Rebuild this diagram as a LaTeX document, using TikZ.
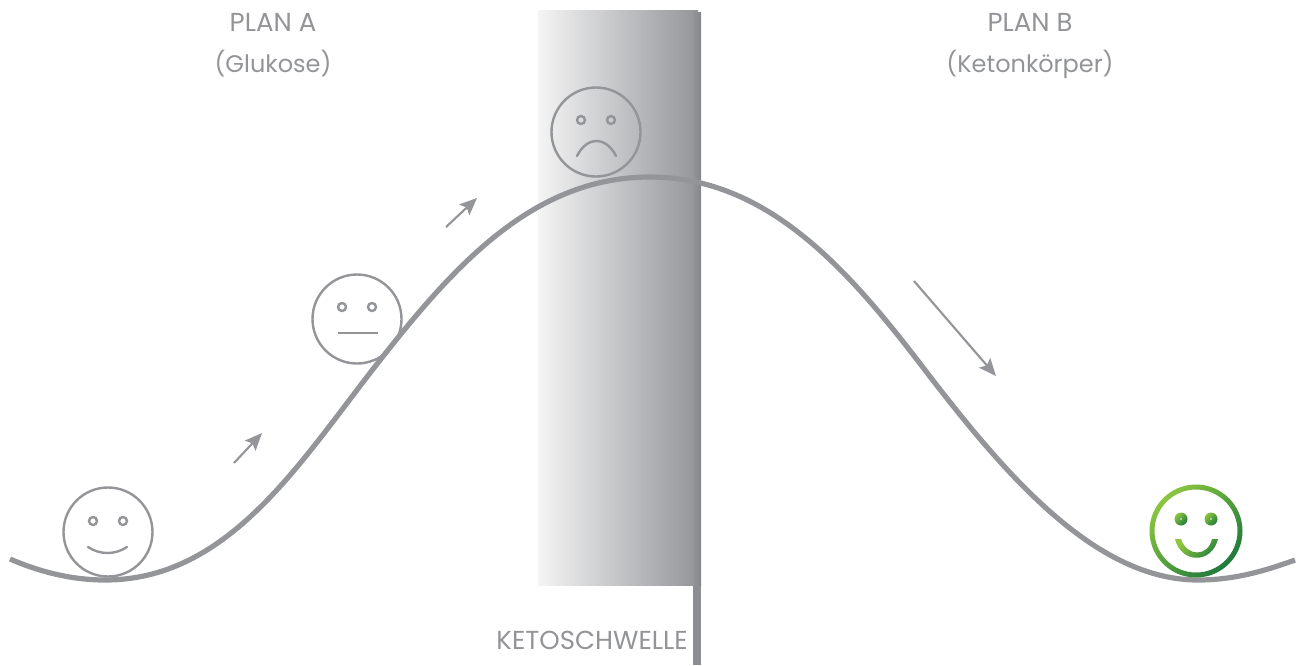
\documentclass[tikz,border=0pt]{standalone}
\usepackage{fontspec}
\setmainfont{Poppins}
\usetikzlibrary{arrows.meta}
\definecolor{gr}{HTML}{949599}
\definecolor{txt}{HTML}{939497}
\definecolor{gl}{HTML}{8CC63F}
\definecolor{gd}{HTML}{1F7A3C}
\tikzset{
  curveline/.style={draw=gr,line width=3.9pt},
  face/.style={draw=gr,line width=1.8pt},
  eye/.style={draw=gr,line width=1.8pt},
  mouth/.style={draw=gr,line width=1.8pt},
  arrowline/.style={draw=gr,line width=1.6pt,-{Stealth[length=13pt,width=11pt,inset=2.5pt]}},
  label/.style={text=txt,font=\fontsize{18}{20}\selectfont,inner sep=0pt},
  caplabel/.style={text=txt,font=\fontsize{19.5}{22}\selectfont,inner sep=0pt},
  greenshade/.style={shading=axis,left color=gl,right color=gd,shading angle=45},
}
\begin{document}
\begin{tikzpicture}[x=0.75pt,y=-0.75pt]
\useasboundingbox (0,0) rectangle (1300,665);
% threshold band
\shade[left color=white!90!gr,right color=gr] (538,10) rectangle (698,585);
\fill[gr!95!black] (693,585) rectangle (701,665);
\shade[left color=gr,right color=gr!90!black] (693,12) rectangle (701,585);
% curve
\coordinate (c0) at (10,559);
\coordinate (c1) at (105,580);
\coordinate (c2) at (370,373);
\coordinate (c3) at (650,177);
\coordinate (c4) at (928,374);
\coordinate (c5) at (1198,580);
\coordinate (c6) at (1295,560);
\draw[curveline] (c0) .. controls (40,572) and (72,580) .. (c1)
  .. controls (225,580) and (295,470) .. (c2)
  .. controls (450,270) and (530,177) .. (c3)
  .. controls (770,177) and (852,274) .. (c4)
  .. controls (1005,474) and (1095,580) .. (c5)
  .. controls (1232,580) and (1262,572) .. (c6);
% arrows
\coordinate (a1s) at (234,463); \coordinate (a1e) at (262,433);
\coordinate (a2s) at (446,227); \coordinate (a2e) at (477,198);
\coordinate (a3s) at (914,281); \coordinate (a3e) at (996,376);
\draw[arrowline] (a1s) -- (a1e);
\draw[arrowline] (a2s) -- (a2e);
\draw[arrowline] (a3s) -- (a3e);
% happy face
\draw[face] (108,532) circle (44.5);
\draw[eye] (93,521) circle (4) (123,521) circle (4);
\draw[mouth,line cap=round] (88,547) .. controls (100,555) and (115,555) .. (127,547);
% neutral face
\draw[face] (357,319) circle (44.5);
\draw[eye] (342,307) circle (4) (372,307) circle (4);
\draw[mouth] (338,333) -- (378,333);
% sad face
\draw[face] (596,132) circle (44.5);
\draw[eye] (581,120) circle (4) (611,120) circle (4);
\draw[mouth,line cap=round] (577,156) .. controls (587,136) and (606,136) .. (616,156);
% green face
\shade[greenshade,even odd rule] (1196,531) circle (46.5) (1196,531) circle (41.5);
\shade[greenshade] (1181,519) circle (6.5);
\shade[greenshade] (1211,519) circle (6.5);
\fill[white] (1181,519) circle (0.8) (1211,519) circle (0.8);
\shade[greenshade] (1175,539) -- (1181,539) .. controls (1187,557) and (1208,557) .. (1212,539) -- (1218,539) .. controls (1212,564) and (1181,564) .. cycle;
% labels
\node[caplabel] (pa) at (273,22) {PLAN A};
\node[label] (pa2) at (273,64) {(Glukose)};
\node[caplabel] (pb) at (1030,22) {PLAN B};
\node[label] (pb2) at (1030,64) {(Ketonkörper)};
\node[caplabel,anchor=east] (ks) at (688,640) {KETOSCHWELLE};
\end{tikzpicture}
\end{document}
